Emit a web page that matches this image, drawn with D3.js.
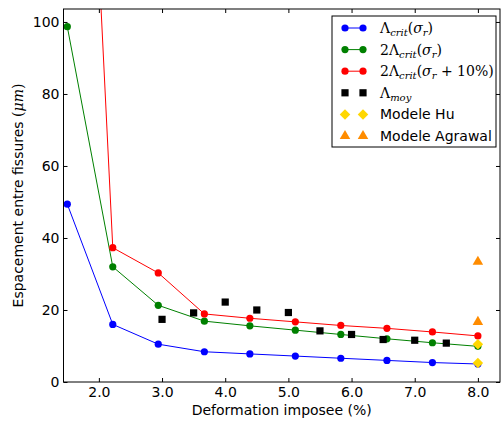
<!DOCTYPE html>
<html><head><meta charset="utf-8">
<script src="https://cdn.jsdelivr.net/npm/d3@7"></script>
<style>body{margin:0;background:#fff}svg{display:block}text{font-family:"DejaVu Sans",sans-serif}</style>
</head><body>
<svg id="c" width="503" height="421"></svg>
<script>
const xs = [1.5, 2.22, 2.94, 3.67, 4.39, 5.11, 5.83, 6.56, 7.28, 8.0];
const lamCrit = [49.4, 16.0, 10.5, 8.4, 7.8, 7.2, 6.6, 6.0, 5.4, 5.0];
const lam2Crit = [98.7, 32.0, 21.3, 16.9, 15.6, 14.4, 13.2, 12.0, 10.9, 9.9];
const lam2Crit10 = [295, 37.3, 30.3, 18.9, 17.7, 16.7, 15.7, 14.9, 13.9, 12.8];
const moyX = [3.0, 3.5, 4.0, 4.5, 5.0, 5.5, 6.0, 6.5, 7.0, 7.5];
const moyY = [17.4, 19.2, 22.2, 20.0, 19.3, 14.2, 13.2, 11.8, 11.6, 10.8];
const huX = [8.0, 8.0];
const huY = [10.5, 5.3];
const agrX = [8.0, 8.0];
const agrY = [33.4, 16.7];
const xTicks = [2, 3, 4, 5, 6, 7, 8];
const yTicks = [0, 20, 40, 60, 80, 100];

const svg = d3.select("#c");
const L = 63.5, R = 500, T = 9, B = 382;
const x = d3.scaleLinear().domain([1.44, 8.35]).range([L, R]);
const y = d3.scaleLinear().domain([0, 103.6]).range([B, T]);

svg.append("defs").append("clipPath").attr("id", "clip")
  .append("rect").attr("x", L).attr("y", T).attr("width", R - L).attr("height", B - T);
const g = svg.append("g").attr("clip-path", "url(#clip)");

const line = d3.line().x(d => x(d[0])).y(d => y(d[1]));
const series = [[lamCrit, "#0000ff"], [lam2Crit, "#008000"], [lam2Crit10, "#ff0000"]];
series.forEach(([vals, col]) => {
  const pts = xs.map((v, i) => [v, vals[i]]);
  g.append("path").datum(pts).attr("d", line).attr("fill", "none").attr("stroke", col).attr("stroke-width", 1);
  g.selectAll(null).data(pts).enter().append("circle")
    .attr("cx", d => x(d[0])).attr("cy", d => y(d[1])).attr("r", 3.6).attr("fill", col);
});
g.selectAll(null).data(moyX.map((v, i) => [v, moyY[i]])).enter().append("rect")
  .attr("x", d => x(d[0]) - 3.6).attr("y", d => y(d[1]) - 3.6).attr("width", 7.2).attr("height", 7.2).attr("fill", "#000");
const diamond = d3.symbol().type(d3.symbolDiamond2).size(70);
g.selectAll(null).data(huX.map((v, i) => [v, huY[i]])).enter().append("path")
  .attr("d", diamond).attr("transform", d => `translate(${x(d[0])},${y(d[1])})`).attr("fill", "#ffd700");
const tri = d3.symbol().type(d3.symbolTriangle).size(48);
g.selectAll(null).data(agrX.map((v, i) => [v, agrY[i]])).enter().append("path")
  .attr("d", tri).attr("transform", d => `translate(${x(d[0])},${y(d[1])})`).attr("fill", "#ff8c00");

// axes with inward ticks on all sides
const fmtX = d3.format(".1f");
const axB = d3.axisBottom(x).tickValues(xTicks).tickFormat(fmtX).tickSizeInner(-4).tickSizeOuter(0).tickPadding(5);
const axT = d3.axisTop(x).tickValues(xTicks).tickFormat("").tickSizeInner(-4).tickSizeOuter(0);
const axL = d3.axisLeft(y).tickValues(yTicks).tickSizeInner(-4).tickSizeOuter(0).tickPadding(4);
const axR = d3.axisRight(y).tickValues(yTicks).tickFormat("").tickSizeInner(-4).tickSizeOuter(0);
[[axB, `translate(0,${B})`], [axT, `translate(0,${T})`], [axL, `translate(${L},0)`], [axR, `translate(${R},0)`]].forEach(([ax, tr]) => {
  const a = svg.append("g").attr("transform", tr).call(ax);
  a.select(".domain").remove();
  a.selectAll("line").attr("stroke", "#000");
  a.selectAll("text").attr("font-size", 14).attr("fill", "#000").attr("font-family", "DejaVu Sans");
});
svg.append("rect").attr("x", L).attr("y", T).attr("width", R - L).attr("height", B - T)
  .attr("fill", "none").attr("stroke", "#000").attr("stroke-width", 1);

svg.append("text").attr("x", (L + R) / 2).attr("y", 415).attr("text-anchor", "middle").attr("font-size", 14)
  .text("Deformation imposee (%)");
const yl = svg.append("text").attr("transform", `translate(23,${(T + B) / 2}) rotate(-90)`).attr("text-anchor", "middle").attr("font-size", 14);
yl.append("tspan").text("Espacement entre fissures ");
yl.append("tspan").attr("font-family", "DejaVu Serif").text("(");
yl.append("tspan").attr("font-family", "DejaVu Serif").attr("font-style", "italic").text("μm");
yl.append("tspan").attr("font-family", "DejaVu Serif").text(")");

// legend
const lg = svg.append("g");
lg.append("rect").attr("x", 332).attr("y", 16).attr("width", 164).attr("height", 131)
  .attr("fill", "#fff").attr("stroke", "#000").attr("stroke-width", 1);
const rowY = i => 28 + i * 21.6;
const mx = [345, 363];
const serif = "DejaVu Serif";
function mathLabel(t, parts) {
  parts.forEach(p => {
    const ts = t.append("tspan").attr("font-family", serif).text(p.t);
    if (p.i) ts.attr("font-style", "italic");
    if (p.sub) ts.attr("font-size", 10).attr("dy", 3);
    if (p.up) ts.attr("dy", -3);
  });
}
const lab = [
  [{t: "Λ"}, {t: "crit", i: 1, sub: 1}, {t: "(", up: 1}, {t: "σ", i: 1}, {t: "r", i: 1, sub: 1}, {t: ")", up: 1}],
  [{t: "2Λ"}, {t: "crit", i: 1, sub: 1}, {t: "(", up: 1}, {t: "σ", i: 1}, {t: "r", i: 1, sub: 1}, {t: ")", up: 1}],
  [{t: "2Λ"}, {t: "crit", i: 1, sub: 1}, {t: "(", up: 1}, {t: "σ", i: 1}, {t: "r", i: 1, sub: 1}, {t: " + 10%)", up: 1}],
  [{t: "Λ"}, {t: "moy", i: 1, sub: 1}]
];
series.forEach(([vals, col], i) => {
  lg.append("line").attr("x1", mx[0]).attr("x2", mx[1]).attr("y1", rowY(i)).attr("y2", rowY(i)).attr("stroke", col);
  mx.forEach(px => lg.append("circle").attr("cx", px).attr("cy", rowY(i)).attr("r", 3.6).attr("fill", col));
});
mx.forEach(px => lg.append("rect").attr("x", px - 3.6).attr("y", rowY(3) - 3.6).attr("width", 7.2).attr("height", 7.2).attr("fill", "#000"));
mx.forEach(px => lg.append("path").attr("d", diamond).attr("transform", `translate(${px},${rowY(4)})`).attr("fill", "#ffd700"));
mx.forEach(px => lg.append("path").attr("d", tri).attr("transform", `translate(${px},${rowY(5)})`).attr("fill", "#ff8c00"));
lab.forEach((parts, i) => {
  const t = lg.append("text").attr("x", 380).attr("y", rowY(i) + 5).attr("font-size", 14);
  mathLabel(t, parts);
});
lg.append("text").attr("x", 380).attr("y", rowY(4) + 5).attr("font-size", 14).text("Modele Hu");
lg.append("text").attr("x", 380).attr("y", rowY(5) + 5).attr("font-size", 14).text("Modele Agrawal");
</script>
</body></html>
